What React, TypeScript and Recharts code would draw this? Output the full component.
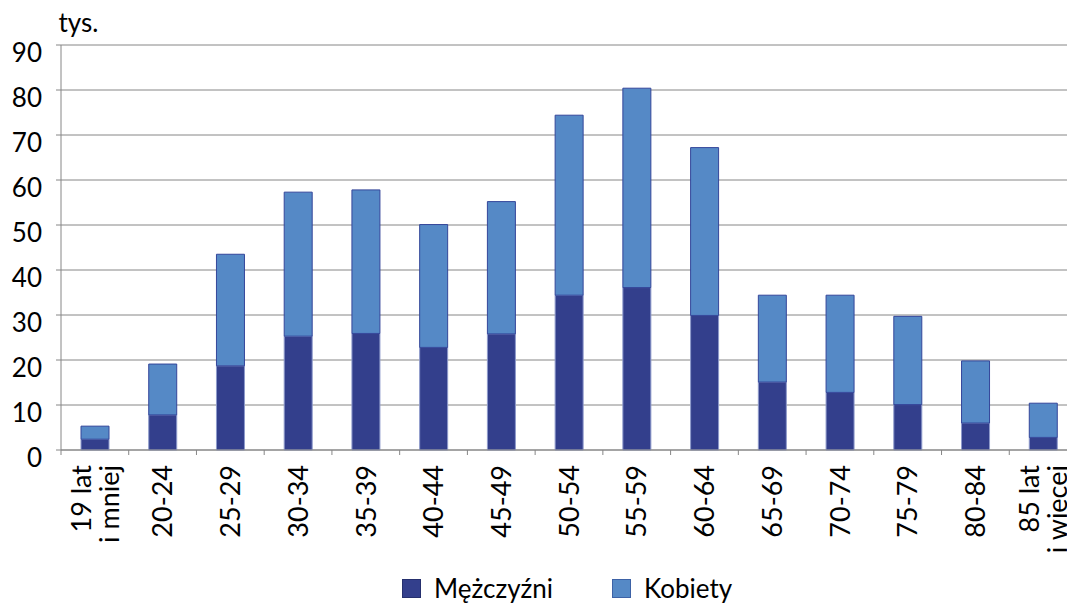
import React from 'react';
import { BarChart, Bar, XAxis, YAxis, CartesianGrid, Legend } from 'recharts';

// age groups, thousands of people
const categories = [
    '19 lat\ni mniej', '20-24', '25-29', '30-34', '35-39', '40-44', '45-49', '50-54',
    '55-59', '60-64', '65-69', '70-74', '75-79', '80-84', '85 lat\ni więcej',
];
const men = [2.4, 7.8, 18.7, 25.3, 25.9, 22.8, 25.8, 34.4, 36.1, 29.9, 15.1, 12.8, 10.1, 6.0, 2.8];
const women = [2.9, 11.3, 24.8, 32.0, 31.9, 27.3, 29.4, 40.0, 44.3, 37.3, 19.3, 21.6, 19.6, 13.8, 7.6];
const yTicks = [0, 10, 20, 30, 40, 50, 60, 70, 80, 90];
const seriesNames = ['Mężczyźni', 'Kobiety'];

const data = categories.map((name, i) => ({ name, m: men[i], k: women[i] }));

const FONT = 'Lato, "Open Sans", sans-serif';
const CHART_W = 1077;
const CHART_H = 604;
const LEFT = 61;
const BAND = (CHART_W - LEFT) / categories.length;
const AXIS = '#868686';
const DARK = '#333F8C';
const LIGHT = '#5589C6';

const XTick = (props: any) => {
    const { x, y, payload } = props;
    const lines = String(payload.value).split('\n');
    return (
        <g transform={`translate(${x},${y})`}>
            <line x1={-BAND / 2} y1={0} x2={-BAND / 2} y2={5} stroke={AXIS} />
            <text
                transform="rotate(-90)"
                x={-15}
                textAnchor="end"
                fill="#000"
                fontSize={27}
                fontFamily={FONT}
            >
                {lines.map((l, i) => (
                    <tspan key={i} x={-15} y={(i - (lines.length - 1) / 2) * 28} dy="0.36em">
                        {l}
                    </tspan>
                ))}
            </text>
        </g>
    );
};

const YTick = (props: any) => {
    const { x, y, payload } = props;
    return (
        <text x={x} y={y} dy={7} textAnchor="end" dominantBaseline="central" fill="#000" fontSize={26} fontFamily={FONT}>
            {payload.value}
        </text>
    );
};

const LegendBox = () => (
    <div style={{ display: 'flex', paddingLeft: 402, fontFamily: FONT, fontSize: 26, color: '#000', height: 26, alignItems: 'center', lineHeight: '26px' }}>
        {seriesNames.map((n, i) => (
            <div key={n} style={{ display: 'flex', alignItems: 'center', width: 210 }}>
                <span
                    style={{
                        display: 'inline-block', width: 17, height: 17, marginRight: 13,
                        background: i === 0 ? DARK : LIGHT,
                        border: `1px solid ${i === 0 ? '#26306E' : '#3D62A6'}`,
                    }}
                />
                <span>{n}</span>
            </div>
        ))}
    </div>
);

const App: React.FC = () => {
    return (
        <div style={{ position: 'fixed', left: 0, top: 0, width: 1067, height: 604, overflow: 'hidden', background: '#fff' }}>
            <BarChart width={CHART_W} height={CHART_H} data={data} margin={{ top: 45, right: 0, bottom: 0, left: 0 }}>
                <CartesianGrid vertical={false} stroke={AXIS} />
                <XAxis
                    dataKey="name"
                    interval={0}
                    height={128}
                    tickLine={false}
                    tickSize={0}
                    tickMargin={0}
                    axisLine={{ stroke: AXIS }}
                    tick={<XTick />}
                />
                <YAxis
                    width={LEFT}
                    domain={[0, 90]}
                    ticks={yTicks}
                    interval={0}
                    tickSize={5}
                    tickMargin={14}
                    tickLine={{ stroke: AXIS }}
                    axisLine={{ stroke: AXIS }}
                    tick={<YTick />}
                    label={{ value: 'tys.', position: 'top', dx: 48, offset: 13, fill: '#000', fontSize: 26, fontFamily: FONT }}
                />
                <Legend verticalAlign="bottom" height={26} content={<LegendBox />} wrapperStyle={{ left: 0, width: CHART_W, bottom: 3 }} />
                <Bar dataKey="m" name={seriesNames[0]} stackId="a" fill={DARK} stroke="#8E9ACB" strokeWidth={1} barSize={28} isAnimationActive={false} />
                <Bar dataKey="k" name={seriesNames[1]} stackId="a" fill={LIGHT} stroke="#34469A" strokeWidth={1} barSize={28} isAnimationActive={false} />
            </BarChart>
        </div>
    );
};

export default App;
